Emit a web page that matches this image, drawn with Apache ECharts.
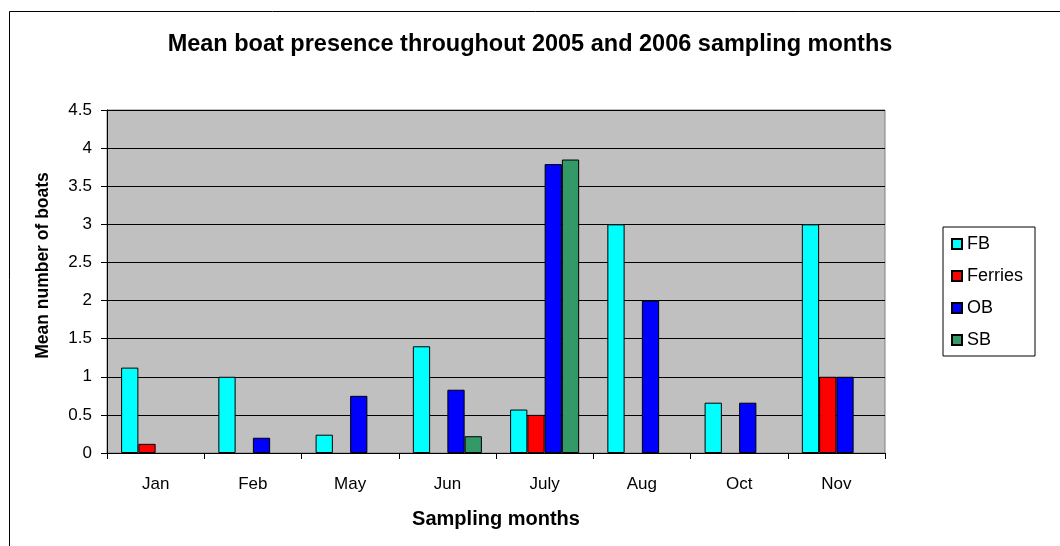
<!DOCTYPE html>
<html>
<head>
<meta charset="utf-8">
<script src="https://cdn.jsdelivr.net/npm/echarts@6/dist/echarts.min.js"></script>
<style>
  html, body { margin: 0; padding: 0; background: #fff; }
  #chart { width: 1060px; height: 546px; }
</style>
</head>
<body>
<div id="chart"></div>
<script>
// Sampling months and mean number of boats per boat type (null = not recorded)
const months = ['Jan', 'Feb', 'May', 'Jun', 'July', 'Aug', 'Oct', 'Nov'];
const fb      = [1.12, 1.0, 0.24, 1.4, 0.57, 3.0, 0.66, 3.0];
const ferries = [0.12, null, null, null, 0.5, null, null, 1.0];
const ob      = [null, 0.2, 0.75, 0.83, 3.79, 2.0, 0.66, 1.0];
const sb      = [null, null, null, 0.22, 3.85, null, null, null];

const seriesDefs = [
  { name: 'FB', data: fb, color: '#00FFFF' },
  { name: 'Ferries', data: ferries, color: '#FF0000' },
  { name: 'OB', data: ob, color: '#0000FF' },
  { name: 'SB', data: sb, color: '#339966' }
];

const font = 'Arial, "Liberation Sans", sans-serif';
const chart = echarts.init(document.getElementById('chart'), null, { renderer: 'canvas' });

chart.setOption({
  animation: false,
  backgroundColor: '#ffffff',
  textStyle: { fontFamily: font },
  title: {
    text: 'Mean boat presence throughout 2005 and 2006 sampling months',
    left: 'center',
    top: 28,
    textStyle: { fontFamily: font, fontSize: 23.5, fontWeight: 'bold', color: '#000' }
  },
  graphic: [{
    type: 'rect',
    shape: { x: 9.5, y: 11.5, width: 1200, height: 700 },
    style: { fill: 'none', stroke: '#000', lineWidth: 1 },
    silent: true,
    z: 0
  }],
  legend: {
    orient: 'vertical',
    left: 943,
    top: 227,
    padding: [8, 12, 7, 8],
    itemGap: 14,
    itemWidth: 10,
    itemHeight: 10,
    icon: 'rect',
    borderColor: '#000',
    borderWidth: 1,
    textStyle: { fontFamily: font, fontSize: 18, color: '#000' },
    data: seriesDefs.map(s => s.name)
  },
  grid: {
    left: 107,
    right: 175,
    top: 110,
    bottom: 93,
    show: true,
    backgroundColor: '#C0C0C0',
    borderColor: '#808080',
    borderWidth: 1
  },
  xAxis: {
    type: 'category',
    data: months,
    name: 'Sampling months',
    nameLocation: 'middle',
    nameGap: 56,
    nameTextStyle: { fontFamily: font, fontSize: 20, fontWeight: 'bold', color: '#000' },
    axisLine: { lineStyle: { color: '#000', width: 1 } },
    axisTick: { show: true, length: 6, lineStyle: { color: '#000' } },
    axisLabel: { fontFamily: font, fontSize: 17, color: '#000', margin: 23 }
  },
  yAxis: {
    type: 'value',
    min: 0,
    max: 4.5,
    interval: 0.5,
    name: 'Mean number of boats',
    nameLocation: 'middle',
    nameGap: 55,
    nameTextStyle: {
      fontFamily: font, fontSize: 17.5, fontWeight: 'bold', color: '#000',
      padding: [0, 0, 0, 32]
    },
    axisLine: { show: true, lineStyle: { color: '#000', width: 1 } },
    axisTick: { show: true, length: 6, lineStyle: { color: '#000' } },
    axisLabel: { fontFamily: font, fontSize: 17, color: '#000', margin: 15 },
    splitLine: { show: true, lineStyle: { color: '#000', width: 1 } }
  },
  series: seriesDefs.map(s => ({
    name: s.name,
    type: 'bar',
    data: s.data,
    barGap: '0%',
    barCategoryGap: '29%',
    itemStyle: { color: s.color, borderColor: '#000', borderWidth: 1 }
  }))
});
</script>
</body>
</html>
